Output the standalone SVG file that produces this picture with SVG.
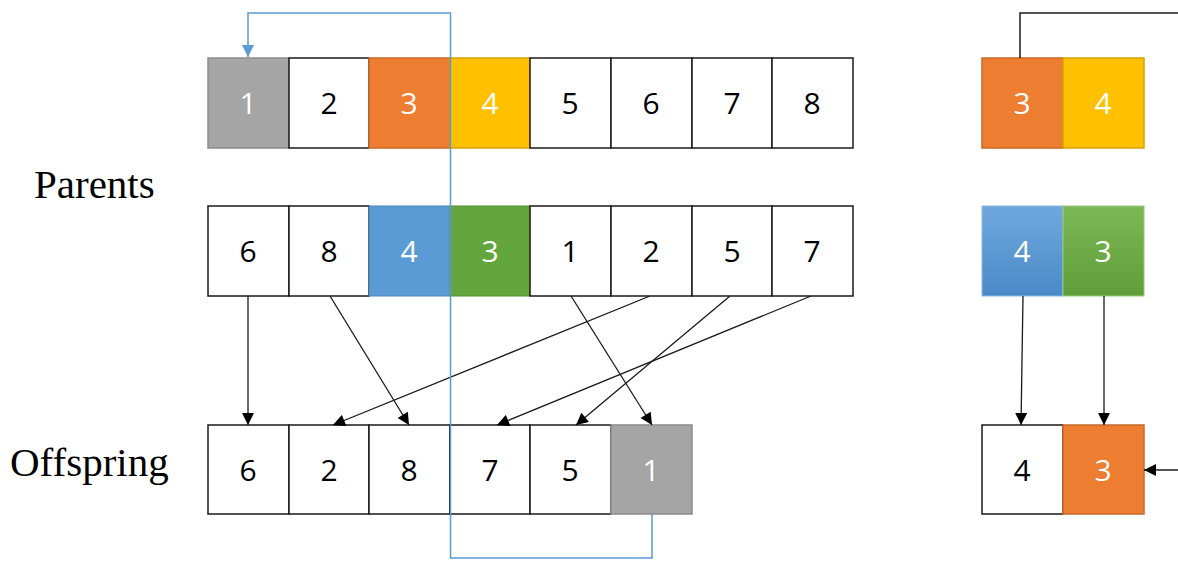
<svg xmlns="http://www.w3.org/2000/svg" width="1178" height="561" viewBox="0 0 1178 561">
<style>
.c{stroke:#1a1a1a;stroke-width:1.5}
.w{fill:#fff}
.gy{fill:#A5A5A5;stroke:#8c8c8c;stroke-width:1.5}
.or{fill:#ED7D31;stroke:#c9682a;stroke-width:1.5}
.ye{fill:#FFC000;stroke:#d9a300;stroke-width:1.5}
.bl{fill:#5B9BD5;stroke:#4f86b8;stroke-width:1}
.gr{fill:#64A63E;stroke:#559035;stroke-width:1}
.t{font-family:"Open Sans","Liberation Sans",sans-serif;font-size:30px;text-anchor:middle;fill:#000}
.tw{fill:#fff}
.lab{font-family:"Liberation Serif",serif;font-size:41px;fill:#000}
.a{stroke:#1a1a1a;stroke-width:1.3;fill:none;marker-end:url(#ah)}
</style>
<defs>
<marker id="ah" viewBox="0 0 10 10" refX="10" refY="5" markerWidth="14" markerHeight="12" markerUnits="userSpaceOnUse" orient="auto"><path d="M0,0 L10,5 L0,10 z" fill="#000"/></marker>
<marker id="bh" viewBox="0 0 10 10" refX="10" refY="5" markerWidth="13" markerHeight="12" markerUnits="userSpaceOnUse" orient="auto"><path d="M0,0 L10,5 L0,10 z" fill="#5B9BD5"/></marker>
<linearGradient id="gb" x1="0" y1="0" x2="0" y2="1"><stop offset="0" stop-color="#6FA8DE"/><stop offset="1" stop-color="#4A8AC8"/></linearGradient>
<linearGradient id="gg" x1="0" y1="0" x2="0" y2="1"><stop offset="0" stop-color="#7DB857"/><stop offset="1" stop-color="#5E9E38"/></linearGradient>
</defs>
<rect width="1178" height="561" fill="#fff"/>

<g id="labels">
<text class="lab" x="34" y="198">Parents</text>
<text class="lab" x="10" y="476">Offspring</text>
</g>

<g id="parent1">
<rect class="gy" x="208" y="58" width="81" height="90"/><text class="t tw" x="248" y="114">1</text>
<rect class="c w" x="289" y="58" width="80" height="90"/><text class="t" x="329" y="114">2</text>
<rect class="or" x="369" y="58" width="81" height="90"/><text class="t tw" x="409" y="114">3</text>
<rect class="ye" x="450" y="58" width="80" height="90"/><text class="t tw" x="490" y="114">4</text>
<rect class="c w" x="530" y="58" width="81" height="90"/><text class="t" x="570" y="114">5</text>
<rect class="c w" x="611" y="58" width="81" height="90"/><text class="t" x="651" y="114">6</text>
<rect class="c w" x="692" y="58" width="80" height="90"/><text class="t" x="732" y="114">7</text>
<rect class="c w" x="772" y="58" width="81" height="90"/><text class="t" x="812" y="114">8</text>
</g>

<g id="parent2">
<rect class="c w" x="208" y="206" width="81" height="90"/><text class="t" x="248" y="262">6</text>
<rect class="c w" x="289" y="206" width="80" height="90"/><text class="t" x="329" y="262">8</text>
<rect class="bl" x="369" y="206" width="81" height="90"/><text class="t tw" x="409" y="262">4</text>
<rect class="gr" x="450" y="206" width="80" height="90"/><text class="t tw" x="490" y="262">3</text>
<rect class="c w" x="530" y="206" width="81" height="90"/><text class="t" x="570" y="262">1</text>
<rect class="c w" x="611" y="206" width="81" height="90"/><text class="t" x="651" y="262">2</text>
<rect class="c w" x="692" y="206" width="80" height="90"/><text class="t" x="732" y="262">5</text>
<rect class="c w" x="772" y="206" width="81" height="90"/><text class="t" x="812" y="262">7</text>
</g>

<g id="offspring">
<rect class="c w" x="208" y="425" width="81" height="89"/><text class="t" x="248" y="481">6</text>
<rect class="c w" x="289" y="425" width="80" height="89"/><text class="t" x="329" y="481">2</text>
<rect class="c w" x="369" y="425" width="81" height="89"/><text class="t" x="409" y="481">8</text>
<rect class="c w" x="450" y="425" width="80" height="89"/><text class="t" x="490" y="481">7</text>
<rect class="c w" x="530" y="425" width="81" height="89"/><text class="t" x="570" y="481">5</text>
<rect class="gy" x="611" y="425" width="81" height="89"/><text class="t tw" x="651" y="481">1</text>
</g>

<g id="right-parent1">
<rect class="or" x="982" y="58" width="81" height="90"/><text class="t tw" x="1022" y="114">3</text>
<rect class="ye" x="1063" y="58" width="81" height="90"/><text class="t tw" x="1103" y="114">4</text>
</g>
<g id="right-parent2">
<rect x="982" y="206" width="81" height="90" fill="url(#gb)" stroke="#8db8e0" stroke-width="1"/><text class="t tw" x="1022" y="262">4</text>
<rect x="1063" y="206" width="81" height="90" fill="url(#gg)" stroke="#9ac97e" stroke-width="1"/><text class="t tw" x="1103" y="262">3</text>
</g>
<g id="right-offspring">
<rect class="c w" x="982" y="425" width="81" height="89"/><text class="t" x="1022" y="481">4</text>
<rect class="or" x="1063" y="425" width="81" height="89"/><text class="t tw" x="1103" y="481">3</text>
</g>

<g id="connectors">
<path class="a" d="M248,296 L248,425"/>
<path class="a" d="M330,296 L409,425"/>
<path class="a" d="M571,296 L652,425"/>
<path class="a" d="M650,296 L333,425"/>
<path class="a" d="M730,296 L576,425"/>
<path class="a" d="M811,296 L497,425"/>
<path class="a" d="M1023,296 L1021,425"/>
<path class="a" d="M1104,296 L1104,425"/>
<path class="a" d="M1178,470 L1144,470"/>
<path d="M1020,58 L1020,13 L1178,13" stroke="#1a1a1a" stroke-width="1.5" fill="none"/>
<path d="M652,514 L652,558 L450.5,558 L450.5,13 L248,13 L248,57" stroke="#5B9BD5" stroke-width="1.5" fill="none" marker-end="url(#bh)"/>
</g>
</svg>
